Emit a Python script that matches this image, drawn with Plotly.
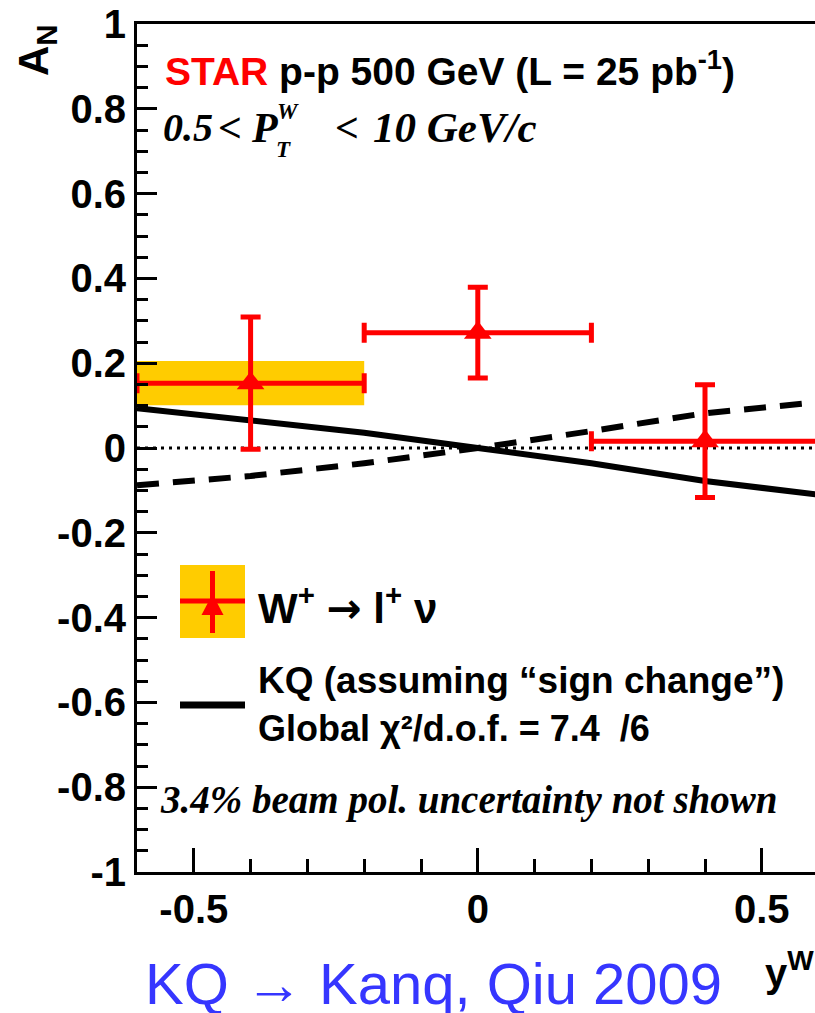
import plotly.graph_objects as go

# --- data -------------------------------------------------------------
bin_center = [-0.4, 0.0, 0.4]          # W rapidity bin centres
bin_halfwidth = [0.2, 0.2, 0.2]
a_n = [0.153, 0.272, 0.016]            # measured A_N
stat_err = [0.156, 0.107, 0.133]
sys_err = [0.052, 0.004, 0.004]

kq_x = [-0.6, -0.4, -0.2, 0.0, 0.2, 0.4, 0.6]
kq_sign_change = [0.094, 0.066, 0.036, 0.0, -0.036, -0.078, -0.110]
kq_no_sign_change = [-0.088, -0.066, -0.036, 0.0, 0.040, 0.082, 0.108]

zero_x = [-0.6, 0.6]
zero_y = [0.0, 0.0]

y_tick_vals = [-1, -0.8, -0.6, -0.4, -0.2, 0, 0.2, 0.4, 0.6, 0.8, 1]
y_tick_text = ["-1", "-0.8", "-0.6", "-0.4", "-0.2", "0", "0.2", "0.4", "0.6", "0.8", "1"]
x_tick_vals = [-0.5, 0, 0.5]
x_tick_text = ["-0.5", "0", "0.5"]

# --- styling ----------------------------------------------------------
RED = "#FF0000"
GOLD = "#FFCC00"
SANS = "Liberation Sans"
SERIF = "Liberation Serif"

W, H = 815, 1013
PL, PR, PT, PB = 137, 815, 24, 872     # plot area in pixels


def px(x):
    return (x - PL) / (PR - PL)


def py(y):
    return (PB - y) / (PB - PT)


fig = go.Figure()

# systematic-uncertainty boxes
shapes = []
for xc, hw, yv, se in zip(bin_center, bin_halfwidth, a_n, sys_err):
    shapes.append(dict(type="rect", xref="x", yref="y",
                       x0=xc - hw, x1=xc + hw, y0=yv - se, y1=yv + se,
                       fillcolor=GOLD, line=dict(width=0), layer="below"))

# zero reference line
fig.add_trace(go.Scatter(x=zero_x, y=zero_y, mode="lines",
                         line=dict(color="black", width=3, dash="3px,5px"),
                         hoverinfo="skip", showlegend=False))

# theory curves
fig.add_trace(go.Scatter(x=kq_x, y=kq_sign_change, mode="lines",
                         line=dict(color="black", width=6),
                         showlegend=False))
fig.add_trace(go.Scatter(x=kq_x, y=kq_no_sign_change, mode="lines",
                         line=dict(color="black", width=6, dash="22px,14px"),
                         showlegend=False))

# data points
fig.add_trace(go.Scatter(
    x=bin_center, y=a_n, mode="markers",
    marker=dict(symbol="triangle-up", size=24, color=RED),
    error_x=dict(type="data", array=bin_halfwidth, color=RED, thickness=5, width=10),
    error_y=dict(type="data", array=stat_err, color=RED, thickness=5, width=10),
    showlegend=False))

# legend glyphs
shapes += [
    dict(type="rect", xref="paper", yref="paper",
         x0=px(180), x1=px(245), y0=py(638), y1=py(565),
         fillcolor=GOLD, line=dict(width=0)),
    dict(type="line", xref="paper", yref="paper",
         x0=px(180), x1=px(245), y0=py(601), y1=py(601),
         line=dict(color=RED, width=5)),
    dict(type="line", xref="paper", yref="paper",
         x0=px(212.5), x1=px(212.5), y0=py(571), y1=py(633),
         line=dict(color=RED, width=5)),
    dict(type="path", xref="paper", yref="paper",
         xsizemode="pixel", ysizemode="pixel",
         xanchor=px(212.5), yanchor=py(605),
         path="M-11,-10 L11,-10 L0,11 Z",
         fillcolor=RED, line=dict(width=0)),
    dict(type="line", xref="paper", yref="paper",
         x0=px(180), x1=px(245), y0=py(705), y1=py(705),
         line=dict(color="black", width=7)),
]

ann = []


def text(x, y, s, size, family=SANS, color="black", weight="bold",
         style="normal", xanchor="left", angle=0):
    ann.append(dict(x=px(x), y=py(y), xref="paper", yref="paper", text=s,
                    showarrow=False, xanchor=xanchor, yanchor="middle",
                    textangle=angle,
                    font=dict(family=family, size=size, color=color,
                              weight=weight, style=style)))


text(163, 68, f'<span style="color:{RED}">STAR</span> p-p 500 GeV (L = 25 pb<sup>-1</sup>)', 39)
text(161, 128, "0.5", 40, SERIF, style="italic")
text(216, 128, "&lt;", 42, SERIF, style="italic")
text(249, 128, "P", 42, SERIF, style="italic")
text(275, 112, "W", 23, SERIF, style="italic")
text(274, 149, "T", 23, SERIF, style="italic")
text(333, 128, "&lt;", 42, SERIF, style="italic")
text(371, 128, "10 GeV/c", 43, SERIF, style="italic")

text(256, 605, 'W<sup>+</sup> <span style="font-family:DejaVu Sans">→</span> l<sup>+</sup> ν', 42)
text(256, 680, "KQ (assuming “sign change”)", 37)
text(256, 728, "Global χ²/d.o.f. = 7.4\u00a0\u00a0/6", 36)
text(158, 800, "3.4% beam pol. uncertainty not shown", 39, SERIF, style="italic")

text(36, 50, "A<sub>N</sub>", 42, angle=-90, xanchor="center")
text(816, 970, "y<sup>W</sup>", 40, xanchor="right")
text(143, 983, "KQ → Kanq, Qiu 2009", 58, color="#3636FF", weight="normal")

fig.update_layout(
    width=W, height=H,
    margin=dict(l=PL, r=W - PR, t=PT, b=H - PB, pad=0),
    paper_bgcolor="white", plot_bgcolor="white",
    shapes=shapes, annotations=ann, showlegend=False,
    xaxis=dict(range=[-0.6, -0.6 + (PR - PL) / 568.0],
               tickmode="array", tickvals=x_tick_vals, ticktext=x_tick_text,
               ticks="inside", ticklen=24, tickwidth=3, tickcolor="black",
               minor=dict(tickmode="linear", tick0=0, dtick=0.1, ticks="inside",
                          ticklen=13, tickwidth=3, tickcolor="black", showgrid=False),
               showline=True, linewidth=3, linecolor="black", mirror=True,
               showgrid=False, zeroline=False, ticklabelstandoff=0,
               tickfont=dict(family=SANS, size=40, color="black", weight="bold")),
    yaxis=dict(range=[-1, 1],
               tickmode="array", tickvals=y_tick_vals, ticktext=y_tick_text,
               ticks="inside", ticklen=20, tickwidth=3, tickcolor="black",
               minor=dict(tickmode="linear", tick0=0, dtick=0.05, ticks="inside",
                          ticklen=11, tickwidth=3, tickcolor="black", showgrid=False),
               showline=True, linewidth=3, linecolor="black", mirror=False,
               showgrid=False, zeroline=False, ticklabelstandoff=0,
               tickfont=dict(family=SANS, size=40, color="black", weight="bold")),
)

fig.write_html("out.html")
